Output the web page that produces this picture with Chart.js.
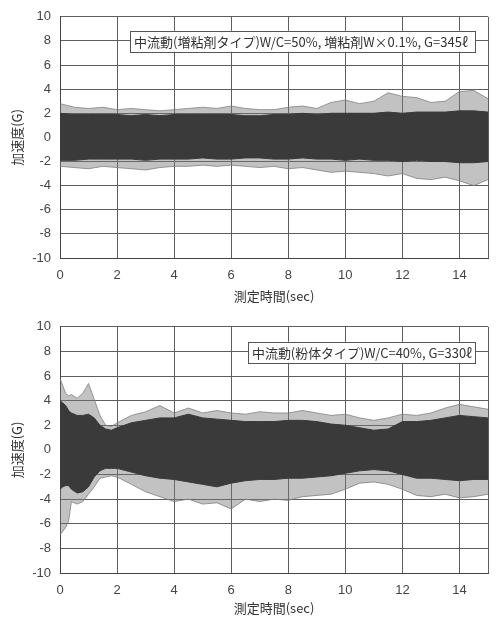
<!DOCTYPE html>
<html>
<head>
<meta charset="utf-8">
<script src="https://cdn.jsdelivr.net/npm/chart.js@4/dist/chart.umd.min.js"></script>
<style>
  html, body { margin: 0; padding: 0; background: #ffffff; }
  #wrap { position: relative; width: 498px; height: 619px; }
  .panel { position: absolute; left: 0; width: 498px; }
  #p1 { top: 0; height: 310px; }
  #p2 { top: 310px; height: 309px; }
</style>
</head>
<body>
<div id="wrap">
  <div class="panel" id="p1"><canvas id="c1"></canvas></div>
  <div class="panel" id="p2"><canvas id="c2"></canvas></div>
</div>
<script>
// ---- Data (envelopes of the dense acceleration record) ----
const xTicks = [0, 2, 4, 6, 8, 10, 12, 14];
const yTicks = [-10, -8, -6, -4, -2, 0, 2, 4, 6, 8, 10];

const p1Label = "中流動(増粘剤タイプ)W/C=50%, 増粘剤W×0.1%, G=345ℓ";
const p1Time = [0,0.5,1,1.5,2,2.5,3,3.5,4,4.5,5,5.5,6,6.5,7,7.5,8,8.5,9,9.5,10,10.5,11,11.5,12,12.5,13,13.5,14,14.5,15];
const p1PeakUpper = [2.8,2.5,2.4,2.5,2.3,2.4,2.3,2.2,2.3,2.4,2.5,2.4,2.6,2.4,2.3,2.3,2.5,2.6,2.4,2.9,3.1,2.8,3.0,3.7,3.4,3.3,2.9,3.0,3.8,3.9,3.2];
const p1DarkUpper = [2.0,1.9,1.9,1.9,1.9,1.8,1.9,1.8,1.9,1.9,1.9,1.9,1.9,1.8,1.8,1.9,1.9,2.0,1.9,2.0,2.0,2.0,2.0,2.1,2.0,2.1,2.1,2.1,2.2,2.2,2.1];
const p1DarkLower = [-1.9,-1.9,-1.8,-1.8,-1.8,-1.8,-1.9,-1.8,-1.8,-1.8,-1.7,-1.8,-1.8,-1.7,-1.7,-1.8,-1.8,-1.7,-1.8,-1.8,-1.9,-1.8,-1.9,-1.9,-2.0,-1.9,-2.0,-2.0,-2.1,-2.1,-2.0];
const p1PeakLower = [-2.4,-2.5,-2.6,-2.4,-2.5,-2.6,-2.7,-2.5,-2.4,-2.4,-2.3,-2.4,-2.3,-2.4,-2.5,-2.4,-2.6,-2.5,-2.7,-2.9,-2.8,-2.9,-3.0,-3.2,-3.0,-3.4,-3.5,-3.3,-3.6,-4.0,-3.5];

const p2Label = "中流動(粉体タイプ)W/C=40%, G=330ℓ";
const p2Time = [0,0.1,0.2,0.3,0.4,0.6,0.8,1.0,1.2,1.4,1.6,1.8,2.0,2.5,3.0,3.5,4.0,4.5,5.0,5.5,6.0,6.5,7.0,7.5,8.0,8.5,9.0,9.5,10.0,10.5,11.0,11.5,12.0,12.5,13.0,13.5,14.0,14.5,15.0];
const p2PeakUpper = [5.8,5.2,4.6,4.4,4.5,4.2,4.6,5.4,4.1,2.8,2.0,1.9,2.2,2.8,3.1,3.6,3.0,3.4,3.0,3.2,3.0,2.9,3.1,3.0,3.0,3.2,3.0,2.8,2.9,2.6,2.4,2.6,2.9,2.8,3.0,3.4,3.7,3.5,3.3];
const p2DarkUpper = [4.0,3.8,3.6,3.2,3.0,2.8,2.8,2.9,2.6,2.0,1.7,1.6,1.8,2.2,2.4,2.6,2.6,2.9,2.6,2.5,2.4,2.3,2.3,2.3,2.4,2.4,2.3,2.1,2.0,1.8,1.6,1.7,2.3,2.3,2.4,2.6,2.8,2.7,2.6];
const p2DarkLower = [-3.2,-3.0,-2.9,-2.9,-3.2,-3.5,-3.4,-3.0,-2.2,-1.7,-1.5,-1.5,-1.5,-1.8,-2.1,-2.3,-2.4,-2.6,-2.8,-3.0,-2.7,-2.5,-2.4,-2.4,-2.3,-2.3,-2.2,-2.1,-1.9,-1.7,-1.6,-1.7,-2.0,-2.3,-2.3,-2.4,-2.5,-2.4,-2.4];
const p2PeakLower = [-6.9,-6.6,-6.3,-5.8,-4.2,-4.4,-4.2,-3.6,-3.0,-2.3,-2.2,-2.1,-2.2,-2.8,-3.4,-3.8,-4.2,-4.0,-4.4,-4.3,-4.8,-4.0,-4.2,-4.0,-4.1,-3.8,-3.7,-3.6,-3.2,-2.7,-2.6,-2.8,-3.2,-3.7,-3.8,-3.6,-3.9,-3.8,-3.6];

const xTitle = "測定時間(sec)";
const yTitle = "加速度(G)";

// ---- helpers ----
const pts = (t, v) => t.map((x, i) => ({ x: x, y: v[i] }));
const JP = "'Noto Sans CJK JP', 'Noto Sans', sans-serif";
const NUM = "'Liberation Sans', Arial, sans-serif";

const labelBox = {
  id: 'labelBox',
  afterDatasetsDraw(chart, args, opts) {
    const ca = chart.chartArea;
    const ctx = chart.ctx;
    const left = ca.left + opts.leftOffset;
    const right = ca.right - 13;
    const top = ca.top + opts.topOffset;
    const h = 21;
    ctx.save();
    ctx.fillStyle = '#ffffff';
    ctx.fillRect(left, top, right - left, h);
    ctx.strokeStyle = '#555555';
    ctx.lineWidth = 1;
    ctx.strokeRect(Math.round(left) + 0.5, Math.round(top) + 0.5, right - left, h);
    ctx.fillStyle = '#333333';
    ctx.font = "13px " + JP;
    ctx.textBaseline = 'middle';
    ctx.textAlign = 'left';
    ctx.fillText(opts.text, left + 4, top + h / 2 + 1, right - left - 7);
    ctx.restore();
  }
};

function makeChart(id, time, pu, du, dl, pl, label, padTop, xHeight, titleBottomPad, boxLeft, boxTop) {
  return new Chart(document.getElementById(id), {
    type: 'line',
    data: {
      datasets: [
        { data: pts(time, du), fill: '+1', backgroundColor: '#3a3a3a', borderColor: '#3a3a3a', borderWidth: 1, pointRadius: 0, tension: 0 },
        { data: pts(time, dl), fill: false, borderColor: '#3a3a3a', borderWidth: 1, pointRadius: 0, tension: 0 },
        { data: pts(time, pu), fill: '+1', backgroundColor: 'rgba(120,120,120,0.45)', borderColor: 'rgba(130,130,130,0.8)', borderWidth: 1, pointRadius: 0, tension: 0 },
        { data: pts(time, pl), fill: false, borderColor: 'rgba(130,130,130,0.8)', borderWidth: 1, pointRadius: 0, tension: 0 }
      ]
    },
    options: {
      responsive: true,
      maintainAspectRatio: false,
      animation: false,
      events: [],
      layout: { padding: { top: padTop, right: 4, left: 0, bottom: 0 } },
      plugins: {
        legend: { display: false },
        tooltip: { enabled: false },
        labelBox: { text: label, leftOffset: boxLeft, topOffset: boxTop }
      },
      scales: {
        x: {
          type: 'linear', min: 0, max: 15,
          afterBuildTicks: s => { s.ticks = xTicks.concat([15]).map(v => ({ value: v })); },
          afterFit: s => { s.height = xHeight; },
          ticks: {
            callback: v => (xTicks.includes(v) ? String(v) : ''),
            autoSkip: false, maxRotation: 0, padding: 10,
            color: '#444444', font: { family: NUM, size: 13 }
          },
          grid: { color: '#5e5e5e', lineWidth: 1, drawTicks: false },
          border: { color: '#444444', width: 1 },
          title: { display: true, text: xTitle, color: '#333333', font: { family: JP, size: 13 }, padding: { top: 0, bottom: titleBottomPad } }
        },
        y: {
          type: 'linear', min: -10, max: 10,
          afterBuildTicks: s => { s.ticks = yTicks.map(v => ({ value: v })); },
          afterFit: s => { s.width = 60; },
          ticks: { padding: 9, color: '#444444', font: { family: NUM, size: 13 } },
          grid: { color: '#5e5e5e', lineWidth: 1, drawTicks: false },
          border: { color: '#444444', width: 1 },
          title: { display: true, text: yTitle, color: '#333333', font: { family: JP, size: 13 }, padding: { top: 9, bottom: 0 } }
        }
      }
    },
    plugins: [labelBox]
  });
}

makeChart('c1', p1Time, p1PeakUpper, p1DarkUpper, p1DarkLower, p1PeakLower, p1Label, 10, 52, 6, 70, 14);
makeChart('c2', p2Time, p2PeakUpper, p2DarkUpper, p2DarkLower, p2PeakLower, p2Label, 15, 46, 3, 188, 15);
</script>
</body>
</html>
